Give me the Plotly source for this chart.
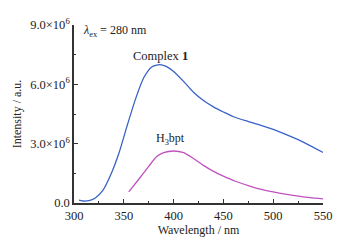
import plotly.graph_objects as go

complex_x = [305, 310, 315, 321, 329, 337, 345, 353, 362, 370, 378, 386, 392, 400, 410, 420, 430, 440, 450, 460, 475, 487, 500, 512, 525, 537, 550]
complex_y = [0.15, 0.10, 0.12, 0.24, 0.64, 1.44, 2.50, 3.85, 5.29, 6.33, 6.88, 7.00, 6.92, 6.65, 6.15, 5.60, 5.18, 4.86, 4.60, 4.36, 4.12, 3.94, 3.72, 3.48, 3.20, 2.90, 2.56]
ligand_x = [355, 365, 375, 383, 390, 400, 410, 420, 430, 440, 450, 462, 475, 487, 500, 512, 525, 537, 550]
ligand_y = [0.56, 1.20, 1.85, 2.35, 2.55, 2.63, 2.55, 2.25, 1.90, 1.60, 1.36, 1.10, 0.88, 0.70, 0.56, 0.45, 0.35, 0.27, 0.21]
scale = 1e6
x_ticks = [300, 350, 400, 450, 500, 550]
y_ticks = [0, 3e6, 6e6, 9e6]
y_tick_labels = ["0.0", "3.0×10<sup>6</sup>", "6.0×10<sup>6</sup>", "9.0×10<sup>6</sup>"]

font = "Liberation Serif, Times New Roman, serif"
txt = "#222222"

fig = go.Figure()
fig.add_trace(go.Scatter(x=complex_x, y=[v * scale for v in complex_y], mode="lines",
                         line=dict(color="#3a62c6", width=1.3, shape="spline", smoothing=0.6),
                         showlegend=False))
fig.add_trace(go.Scatter(x=ligand_x, y=[v * scale for v in ligand_y], mode="lines",
                         line=dict(color="#c052c0", width=1.3, shape="spline", smoothing=0.6),
                         showlegend=False))

axis_common = dict(showline=True, linecolor="#333333", linewidth=1.5, ticks="inside",
                   ticklen=4, tickwidth=1, tickcolor="#333333", showgrid=False, zeroline=False,
                   ticklabeloverflow="allow",
                   tickfont=dict(family=font, size=12.5, color=txt))

fig.update_xaxes(range=[300, 550], tickvals=x_ticks,
                 title=dict(text="Wavelength / nm", font=dict(family=font, size=12, color=txt), standoff=2),
                 minor=dict(ticks="inside", ticklen=2.5, tickcolor="#333333", dtick=25, tick0=300),
                 **axis_common)
fig.update_yaxes(range=[0, 9e6], tickvals=y_ticks, ticktext=y_tick_labels,
                 title=dict(text="Intensity / a.u.", font=dict(family=font, size=12, color=txt), standoff=6),
                 minor=dict(ticks="inside", ticklen=2.5, tickcolor="#333333", dtick=1.5e6, tick0=0),
                 **axis_common)

fig.add_annotation(x=307, y=8.7e6, xref="x", yref="y", text="<i>λ</i><sub>ex</sub> = 280 nm", showarrow=False,
                   xanchor="left", font=dict(family=font, size=12, color=txt))
fig.add_annotation(x=387, y=7.45e6, xref="x", yref="y", text="Complex <b>1</b>", showarrow=False,
                   font=dict(family=font, size=12.5, color=txt))
fig.add_annotation(x=397, y=3.25e6, xref="x", yref="y", text="H<sub>3</sub>bpt", showarrow=False,
                   font=dict(family=font, size=12, color=txt))

fig.update_layout(width=336, height=236, margin=dict(l=61, r=21, t=8, b=41),
                  plot_bgcolor="white", paper_bgcolor="white", showlegend=False)

fig.write_html("out.html")
